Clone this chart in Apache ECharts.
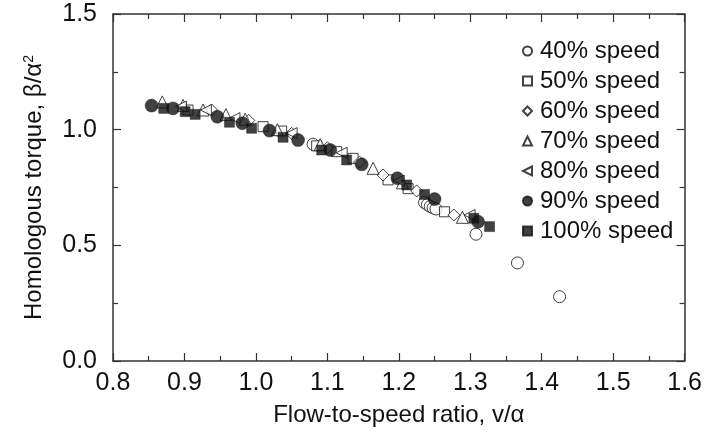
<!DOCTYPE html>
<html>
<head>
<meta charset="utf-8">
<script src="https://cdn.jsdelivr.net/npm/echarts@6/dist/echarts.min.js"></script>
<style>html,body{margin:0;padding:0;background:#fff}#c{width:705px;height:433px}</style>
</head>
<body>
<div id="c"></div>
<script>
var xTicks = [0.8, 0.9, 1.0, 1.1, 1.2, 1.3, 1.4, 1.5, 1.6];
var yTicks = [0.0, 0.5, 1.0, 1.5];
var seriesNames = ['40% speed', '50% speed', '60% speed', '70% speed', '80% speed', '90% speed', '100% speed'];

var speed40 = [[1.080,0.937],[1.236,0.685],[1.240,0.676],[1.244,0.668],[1.248,0.662],[1.252,0.657],[1.308,0.548],[1.366,0.424],[1.425,0.278]];
var speed50 = [[0.905,1.085],[1.010,1.013],[1.036,0.994],[1.085,0.930],[1.113,0.905],[1.136,0.876],[1.185,0.783],[1.213,0.745],[1.264,0.645]];
var speed60 = [[0.938,1.085],[0.990,1.040],[1.050,0.984],[1.100,0.922],[1.145,0.860],[1.178,0.804],[1.225,0.735],[1.277,0.631]];
var speed70 = [[0.869,1.120],[0.898,1.105],[0.926,1.085],[0.958,1.065],[0.985,1.045],[1.030,1.000],[1.090,0.935],[1.164,0.833],[1.205,0.770],[1.289,0.621]];
var speed80 = [[0.895,1.100],[0.930,1.085],[0.970,1.050],[1.050,0.985],[1.120,0.900],[1.200,0.780],[1.299,0.631]];
var speed90 = [[0.854,1.104],[0.884,1.092],[0.946,1.056],[0.981,1.028],[1.019,0.996],[1.059,0.955],[1.104,0.912],[1.148,0.850],[1.198,0.790],[1.250,0.700],[1.311,0.602]];
var speed100 = [[0.871,1.092],[0.901,1.078],[0.915,1.066],[0.963,1.032],[0.994,1.006],[1.038,0.967],[1.092,0.912],[1.127,0.869],[1.211,0.761],[1.236,0.720],[1.305,0.617],[1.327,0.581]];

var leftTri = 'path://M10,0 L0,5 L10,10 Z';
var FONT = 'Liberation Sans, Arial, sans-serif';
var INK = '#111';
var AX = '#333';

var openStyle = {color: '#fff', borderColor: INK, borderWidth: 1};
var fillStyle = {color: INK, borderColor: INK, borderWidth: 0.5};

function mk(name, data, symbol, size, style) {
  return {name: name, type: 'scatter', data: data, symbol: symbol, symbolSize: size,
    itemStyle: style, xAxisIndex: 0, yAxisIndex: 0, animation: false,
    emphasis: {disabled: true}};
}

function axisCommon(showLabel) {
  return {
    axisLine: {show: true, onZero: false, lineStyle: {color: AX, width: 1.5}},
    axisTick: {show: true, inside: true, length: 8, lineStyle: {color: AX, width: 1.2}},
    minorTick: {show: true, splitNumber: 2, length: 5, lineStyle: {color: AX, width: 1.2}},
    splitLine: {show: false},
    axisLabel: {show: showLabel}
  };
}

var chart = echarts.init(document.getElementById('c'), null, {renderer: 'canvas'});
var xa = Object.assign(axisCommon(true), {
  type: 'value', min: xTicks[0], max: xTicks[xTicks.length - 1], interval: 0.1, position: 'bottom',
  name: 'Flow-to-speed ratio, v/\u03b1', nameLocation: 'middle', nameGap: 42,
  nameTextStyle: {fontFamily: FONT, fontSize: 24, color: INK}
});
xa.axisLabel = {show: true, fontFamily: FONT, fontSize: 25, color: INK, margin: 10,
  formatter: function (v) { return v.toFixed(1); }};
var xa2 = Object.assign(axisCommon(false), {type: 'value', min: xTicks[0], max: xTicks[xTicks.length - 1], interval: 0.1, position: 'top'});
var ya = Object.assign(axisCommon(true), {
  type: 'value', min: yTicks[0], max: yTicks[yTicks.length - 1], interval: 0.5, position: 'left',
  name: 'Homologous torque, \u03b2/\u03b1{sup|2}', nameLocation: 'middle', nameGap: 67,
  nameTextStyle: {fontFamily: FONT, fontSize: 24, color: INK,
    rich: {sup: {fontFamily: FONT, fontSize: 14, color: INK, verticalAlign: 'top', lineHeight: 14, padding: [0, 0, 14, 0]}}}
});
ya.axisLabel = {show: true, fontFamily: FONT, fontSize: 25, color: INK, margin: 16,
  formatter: function (v) { return v.toFixed(1); }};
var ya2 = Object.assign(axisCommon(false), {type: 'value', min: yTicks[0], max: yTicks[yTicks.length - 1], interval: 0.5, position: 'right'});

chart.setOption({
  animation: false,
  backgroundColor: '#fff',
  grid: {left: 113, right: 20, top: 14, bottom: 72, containLabel: false},
  xAxis: [xa, xa2],
  yAxis: [ya, ya2],
  legend: {
    orient: 'vertical', left: 517, top: 34, itemWidth: 9, itemHeight: 9, itemGap: 6,
    symbolKeepAspect: true,
    textStyle: {fontFamily: FONT, fontSize: 24, color: INK, lineHeight: 24, padding: [0, 0, 0, 3]},
    data: seriesNames, selectedMode: false
  },
  series: [
    mk(seriesNames[0], speed40, 'circle', 12, openStyle),
    mk(seriesNames[1], speed50, 'rect', 10, openStyle),
    mk(seriesNames[2], speed60, 'diamond', 12, openStyle),
    mk(seriesNames[3], speed70, 'triangle', 12, openStyle),
    mk(seriesNames[4], speed80, leftTri, 11, openStyle),
    mk(seriesNames[5], speed90, 'circle', 13, fillStyle),
    mk(seriesNames[6], speed100, 'rect', 10, fillStyle)
  ]
});
</script>
</body>
</html>
